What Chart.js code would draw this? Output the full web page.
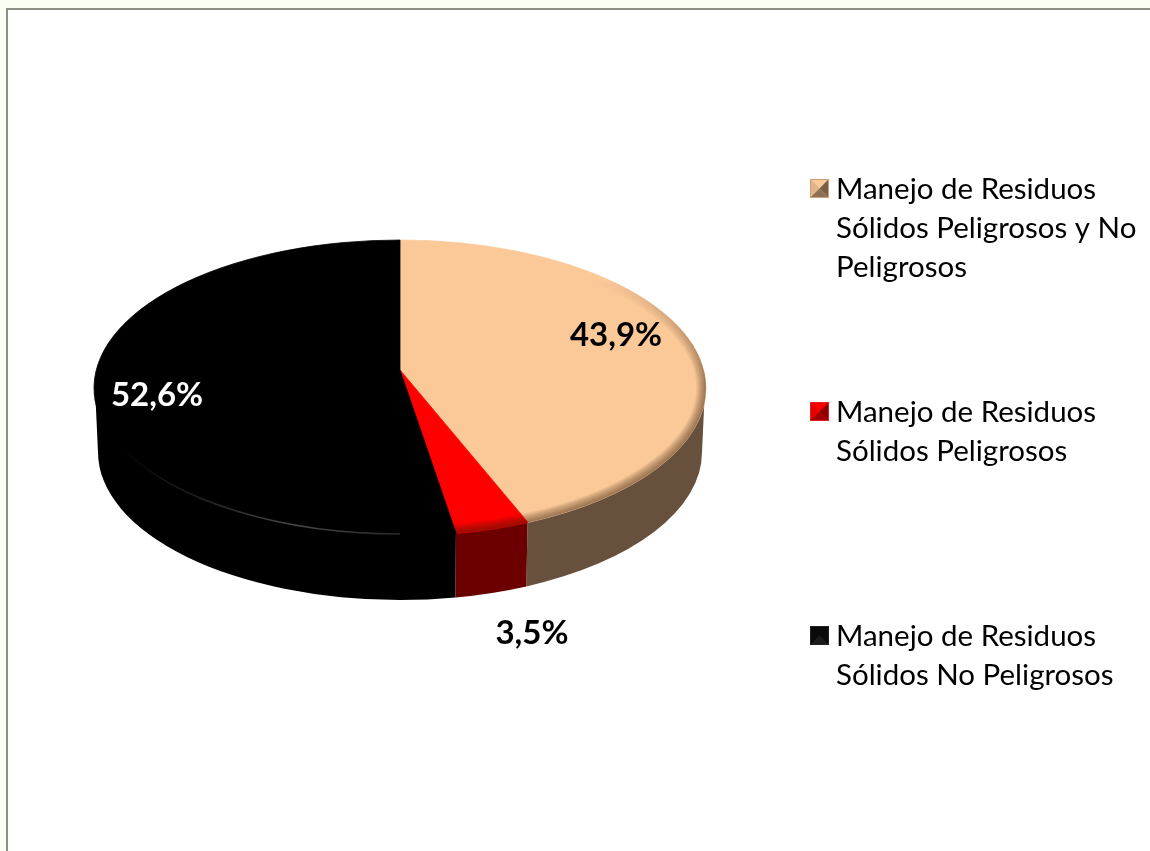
<!DOCTYPE html>
<html lang="es">
<head>
<meta charset="utf-8">
<title>Manejo de Residuos Sólidos</title>
<script src="https://cdn.jsdelivr.net/npm/chart.js@4/dist/chart.umd.min.js"></script>
<style>
    html, body { margin: 0; padding: 0; width: 1150px; height: 851px; overflow: hidden; background: #fbfff3; }
    #frame { position: absolute; left: 6px; top: 8px; width: 1144px; height: 843px; background: #fff; border-left: 2px solid #8b8f86; border-top: 2px solid #8b8f86; box-sizing: border-box; }
    #pie { position: absolute; left: 0; top: 0; }
</style>
</head>
<body>
<div id="frame"></div>
<canvas id="pie" width="1150" height="851"></canvas>
<script>
const categories = [
    'Manejo de Residuos Sólidos Peligrosos y No Peligrosos',
    'Manejo de Residuos Sólidos Peligrosos',
    'Manejo de Residuos Sólidos No Peligrosos'
];
const legendLines = [
    ['Manejo de Residuos', 'Sólidos Peligrosos y No', 'Peligrosos'],
    ['Manejo de Residuos', 'Sólidos Peligrosos'],
    ['Manejo de Residuos', 'Sólidos No Peligrosos']
];
const values = [43.9, 3.5, 52.6];

const topColors = ['#fbc998', '#ff0000', '#000000'];
const sideColors = ['#67503c', '#6c0000', '#000000'];
const labelColors = ['#000000', '#000000', '#ffffff'];
const labelPositions = [[616, 335], [532, 633], [157, 395]];
const legendRows = [189, 412, 636];
const swatchColors = [
    ['#fbc998', '#e0b488', '#7a5f48', '#8f7054', '#c9a27a'],
    ['#ff0000', '#e80000', '#8c0000', '#a00000', '#e02020'],
    ['#0a0a0a', '#0a0a0a', '#0a0a0a', '#1c1c1c', '#222222']
];

const SQUASH = 148 / 306;   // flattening of the disc
const DEPTH = 64;           // height of the disc wall
const BOTTOM_INSET = 4;     // the lower rim is a little narrower
const APEX_SHIFT = 18;      // perspective: slice tip sits above the ellipse centre

// perspective: maps a slice angle on the circle to its place on the tilted rim
function warp(angle, r) {
    const e = APEX_SHIFT / (r * SQUASH);
    const x = Math.cos(angle);
    const y = Math.sin(angle);
    const d = 1 - e * y;
    return Math.atan2((y - e) / d, x * Math.sqrt(1 - e * e) / d);
}

function rimAngles(arc) {
    const start = warp(arc.startAngle, arc.outerRadius);
    let end = warp(arc.endAngle, arc.outerRadius);
    while (end < start) end += Math.PI * 2;
    return { start, end };
}

function drawWall(ctx, arc, color) {
    const rim = rimAngles(arc);
    const start = Math.max(rim.start, 0);
    const end = Math.min(rim.end, Math.PI);
    if (end <= start) return;
    const r = arc.outerRadius;
    ctx.beginPath();
    // upper edge stays tucked under the top face so no seam shows
    ctx.ellipse(arc.x, arc.y, r - 1, r * SQUASH - 3, 0, start, end);
    ctx.ellipse(arc.x, arc.y + DEPTH, r - BOTTOM_INSET, r * SQUASH, 0, end, start, true);
    ctx.closePath();
    ctx.fillStyle = color;
    ctx.fill();
}

function wedgePath(ctx, arc) {
    const r = arc.outerRadius;
    const rim = rimAngles(arc);
    ctx.beginPath();
    ctx.moveTo(arc.x, arc.y - APEX_SHIFT);
    ctx.ellipse(arc.x, arc.y, r, r * SQUASH, 0, rim.start, rim.end);
    ctx.closePath();
}

function drawTop(ctx, arc, color, bevel) {
    wedgePath(ctx, arc);
    ctx.fillStyle = color;
    ctx.fill();
    ctx.strokeStyle = color;
    ctx.lineWidth = 0.8;
    ctx.stroke();
    if (!bevel) return;

    // soft bevel along the rim, fades out toward the back
    const r = arc.outerRadius;
    const fade = ctx.createLinearGradient(0, arc.y - 110, 0, arc.y);
    fade.addColorStop(0, 'rgba(50,25,5,0)');
    fade.addColorStop(1, 'rgba(50,25,5,0.075)');
    ctx.save();
    wedgePath(ctx, arc);
    ctx.clip();
    for (let i = 0; i < 8; i++) {
        ctx.beginPath();
        ctx.ellipse(arc.x, arc.y, r, r * SQUASH, 0, -1.2, Math.PI);
        ctx.lineWidth = (8 - i) * 2.4;
        ctx.strokeStyle = fade;
        ctx.stroke();
    }
    ctx.restore();
}

function drawRimHighlight(ctx, arc) {
    const r = arc.outerRadius;
    const grad = ctx.createLinearGradient(arc.x - 280, 0, arc.x + 40, 0);
    grad.addColorStop(0, 'rgba(255,255,255,0)');
    grad.addColorStop(0.55, 'rgba(255,255,255,0.28)');
    grad.addColorStop(1, 'rgba(255,255,255,0.1)');
    ctx.beginPath();
    ctx.ellipse(arc.x, arc.y, r - 2, r * SQUASH - 2, 0, Math.PI * 0.5, Math.PI * 0.86);
    ctx.strokeStyle = grad;
    ctx.lineWidth = 1.6;
    ctx.stroke();
}

function drawSwatch(ctx, x, y, s, c) {
    const mx = x + s / 2, my = y + s / 2;
    const faces = [
        [[x, y], [x + s, y]],
        [[x, y], [x, y + s]],
        [[x + s, y], [x + s, y + s]],
        [[x, y + s], [x + s, y + s]]
    ];
    ctx.fillStyle = c[1];
    ctx.fillRect(x, y, s, s);
    faces.forEach((f, i) => {
        ctx.beginPath();
        ctx.moveTo(f[0][0], f[0][1]);
        ctx.lineTo(f[1][0], f[1][1]);
        ctx.lineTo(mx, my);
        ctx.closePath();
        ctx.fillStyle = c[i];
        ctx.fill();
    });
    ctx.strokeStyle = c[4];
    ctx.lineWidth = 1;
    ctx.strokeRect(x + 0.5, y + 0.5, s - 1, s - 1);
}

const discPlugin = {
    id: 'disc',
    beforeDatasetsDraw(chart) {
        const ctx = chart.ctx;
        const arcs = chart.getDatasetMeta(0).data;
        ctx.save();
        arcs.forEach((arc, i) => drawWall(ctx, arc, sideColors[i]));
        arcs.forEach((arc, i) => drawTop(ctx, arc, topColors[i], i < 2));
        drawRimHighlight(ctx, arcs[2]);
        ctx.restore();
        return false;
    },
    afterDraw(chart) {
        const ctx = chart.ctx;
        ctx.save();
        ctx.textBaseline = 'middle';

        ctx.textAlign = 'center';
        ctx.font = 'bold 33px Lato';
        values.forEach((v, i) => {
            ctx.fillStyle = labelColors[i];
            ctx.fillText(v.toFixed(1).replace('.', ',') + '%', labelPositions[i][0], labelPositions[i][1]);
        });

        ctx.textAlign = 'left';
        ctx.font = '29.5px Lato';
        legendLines.forEach((lines, i) => {
            drawSwatch(ctx, 810, legendRows[i] - 10, 19, swatchColors[i]);
            ctx.fillStyle = '#000';
            lines.forEach((line, j) => ctx.fillText(line, 836, legendRows[i] + j * 39));
        });
        ctx.restore();
    }
};

new Chart(document.getElementById('pie').getContext('2d'), {
    type: 'pie',
    data: {
        labels: categories,
        datasets: [{ data: values, backgroundColor: topColors, borderWidth: 0 }]
    },
    options: {
        responsive: false,
        animation: false,
        layout: { padding: { left: 94, right: 444, top: 82, bottom: 157 } },
        plugins: { legend: { display: false }, tooltip: { enabled: false } }
    },
    plugins: [discPlugin]
});
</script>
</body>
</html>
